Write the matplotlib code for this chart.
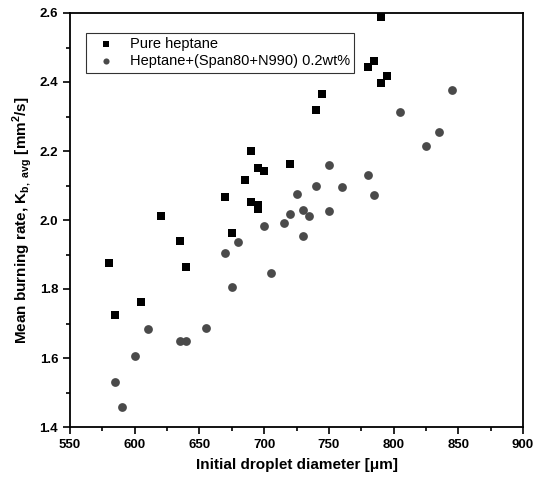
import numpy as np
import matplotlib.pyplot as plt
from matplotlib.ticker import MultipleLocator

# Pure heptane
d_pure = [580, 585, 605, 620, 635, 640, 670, 675, 685, 690, 690, 695, 695, 695,
          700, 720, 740, 745, 780, 785, 790, 790, 795]
k_pure = [1.875, 1.724, 1.761, 2.011, 1.938, 1.864, 2.067, 1.961, 2.116, 2.199,
          2.051, 2.152, 2.044, 2.032, 2.142, 2.162, 2.320, 2.364, 2.443, 2.461,
          2.588, 2.398, 2.417]

# Heptane + (Span80+N990) 0.2wt%
d_mix = [585, 590, 600, 610, 635, 640, 655, 670, 675, 680, 700, 705, 715, 720,
         725, 730, 730, 735, 740, 750, 750, 760, 780, 785, 805, 825, 835, 845]
k_mix = [1.531, 1.459, 1.607, 1.685, 1.648, 1.648, 1.686, 1.904, 1.806, 1.936,
         1.982, 1.847, 1.990, 2.017, 2.074, 2.028, 1.955, 2.011, 2.098, 2.160,
         2.026, 2.097, 2.131, 2.073, 2.312, 2.215, 2.255, 2.377]

plt.rcParams['font.family'] = ['Liberation Sans', 'DejaVu Sans']

fig = plt.figure(figsize=(5.42, 4.84), dpi=100)
ax = fig.add_axes([70/542, 1 - 427/484, 453/542, 414/484])

ax.scatter(d_pure, k_pure, marker='s', s=33, c='black', linewidths=0,
           label='Pure heptane', zorder=3)
ax.scatter(d_mix, k_mix, marker='o', s=40, c='#4a4a4a', linewidths=0,
           label='Heptane+(Span80+N990) 0.2wt%', zorder=3)

ax.set_xlim(550, 900)
ax.set_ylim(1.4, 2.6)
ax.xaxis.set_major_locator(MultipleLocator(50))
ax.xaxis.set_minor_locator(MultipleLocator(25))
ax.yaxis.set_major_locator(MultipleLocator(0.2))
ax.yaxis.set_minor_locator(MultipleLocator(0.1))
ax.tick_params(which='both', direction='out', width=1.2, top=False, right=False)
ax.tick_params(which='major', length=5, labelsize=9.5)
ax.tick_params(which='minor', length=3)
for lbl in ax.get_xticklabels() + ax.get_yticklabels():
    lbl.set_fontweight('bold')
ax.yaxis.set_major_formatter(plt.FuncFormatter(lambda v, p: f'{v:.1f}'))
for sp in ax.spines.values():
    sp.set_linewidth(1.3)

ax.set_xlabel('Initial droplet diameter [\u03bcm]', fontsize=11, fontweight='bold', labelpad=5)
ax.set_ylabel(r'Mean burning rate, K$_{\mathregular{b,\ avg}}$ [mm$^{\mathregular{2}}$/s]',
              fontsize=11, fontweight='bold', labelpad=4)

leg = ax.legend(loc='upper left', bbox_to_anchor=(0.035, 0.952), fontsize=10.5,
                frameon=True, fancybox=False, edgecolor='black', borderpad=0.3,
                handletextpad=0.5, labelspacing=0.2, handlelength=2.2,
                borderaxespad=0, markerscale=0.7)
leg.get_frame().set_linewidth(0.8)

plt.savefig('out.png', dpi=100)
